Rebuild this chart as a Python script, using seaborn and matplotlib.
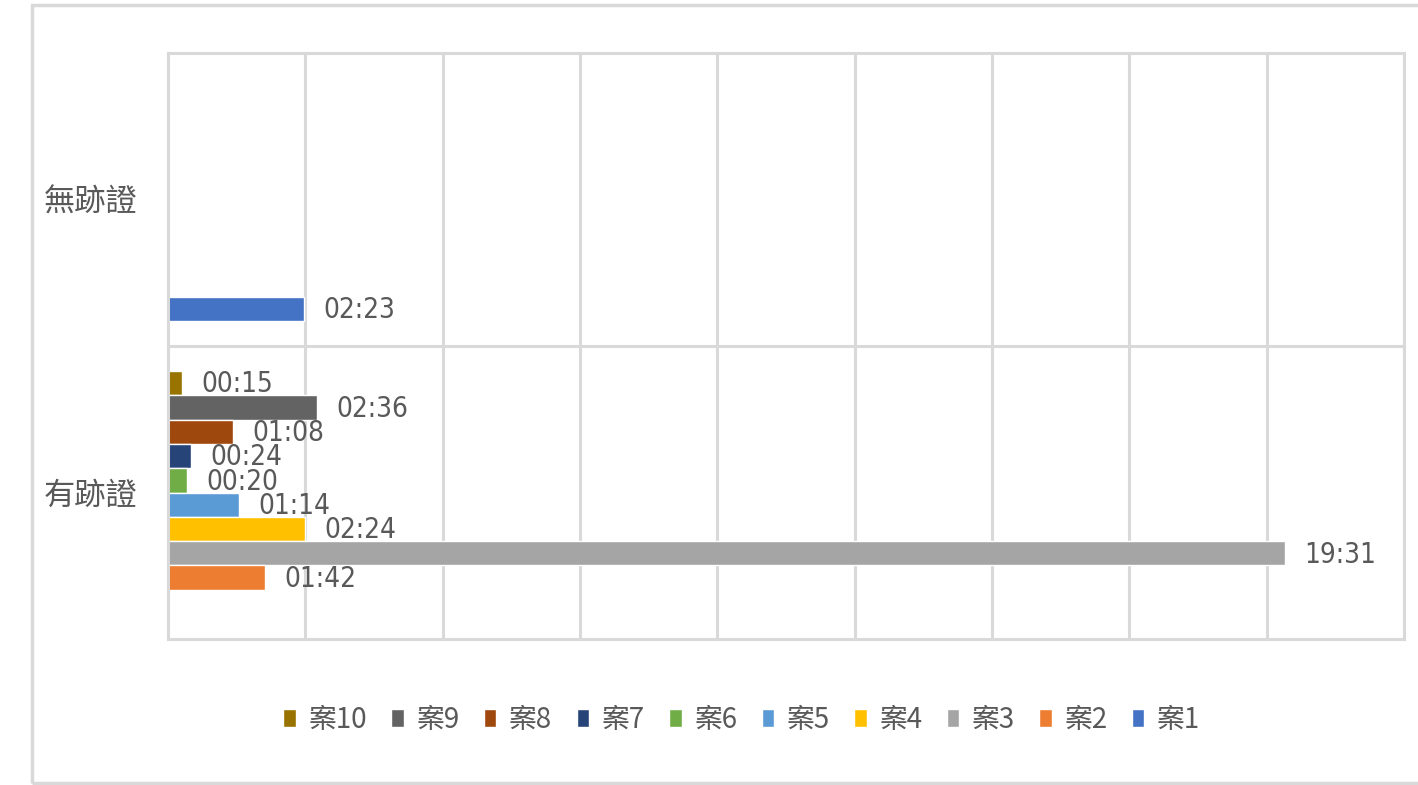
import numpy as np
import pandas as pd
import matplotlib
matplotlib.use("Agg")
import matplotlib.pyplot as plt
import seaborn as sns
from matplotlib import font_manager
from matplotlib.patches import Rectangle

# data: time per case (hh:mm), None = no bar
categories = ["無跡證", "有跡證"]
cases = ["案10", "案9", "案8", "案7", "案6", "案5", "案4", "案3", "案2", "案1"]
no_trace = [None, None, None, None, None, None, None, None, None, "02:23"]
with_trace = ["00:15", "02:36", "01:08", "00:24", "00:20", "01:14", "02:24", "19:31", "01:42", None]
colors = ["#997300", "#636363", "#9E480E", "#264478", "#70AD47",
          "#5B9BD5", "#FFC000", "#A5A5A5", "#ED7D31", "#4472C4"]


def to_min(s):
    h, m = s.split(":")
    return int(h) * 60 + int(m)


rows = []
for cat, vals in zip(categories, [no_trace, with_trace]):
    for case, v in zip(cases, vals):
        if v is not None:
            rows.append({"cat": cat, "case": case, "label": v, "minutes": to_min(v)})
df = pd.DataFrame(rows)

sns.set_style("white")

# look for a narrow font for the numbers (Excel used a condensed face)
num_font, num_stretch, num_size = "Liberation Sans", "normal", 19
for f in font_manager.fontManager.ttflist:
    if f.name == "Liberation Sans Narrow":
        num_font, num_stretch, num_size = f.name, "normal", 21
        break
else:
    for f in font_manager.fontManager.ttflist:
        if f.name == "DejaVu Sans" and f.stretch == "condensed" and f.style == "normal" and f.weight in (400, "normal"):
            num_font, num_stretch, num_size = f.name, "condensed", 20
            break

plt.rcParams["font.family"] = [num_font, "Noto Sans CJK TC", "DejaVu Sans"]

grid_c = "#d9d9d9"
text_c = "#595959"

fig = plt.figure(figsize=(14.18, 7.85), dpi=100)
ax = fig.add_axes([168 / 1418, 1 - 639 / 785, (1404 - 168) / 1418, (639 - 53) / 785])

sns.barplot(data=df, y="cat", x="minutes", hue="case", order=categories,
            hue_order=cases, palette=colors, orient="h", width=0.83,
            dodge=True, saturation=1, ax=ax, legend=True)

# data labels
for container, case in zip(ax.containers, cases):
    sub = df[df["case"] == case].set_index("cat")
    for bar in container:
        w = bar.get_width()
        if np.isnan(w) or w == 0:
            continue
        yc = bar.get_y() + bar.get_height() / 2
        cat = categories[int(round(yc))]
        lab = sub.loc[cat, "label"]
        ax.annotate(lab, (w, yc), xytext=(14, -1), textcoords="offset points",
                    va="center", ha="left", fontsize=num_size, color=text_c,
                    family=[num_font, "DejaVu Sans"], fontstretch=num_stretch)

ax.set_xlim(0, 1296)
ax.set_ylim(1.5, -0.5)
ax.set_xticks(np.arange(0, 1297, 144))
ax.set_xticklabels([])
ax.tick_params(axis="x", length=0)
ax.tick_params(axis="y", length=0, pad=22)
ax.grid(axis="x", color=grid_c, linewidth=2.2)
ax.axhline(0.5, color=grid_c, linewidth=2.2, zorder=0)
ax.set_axisbelow(True)
for sp in ax.spines.values():
    sp.set_color(grid_c)
    sp.set_linewidth(2.2)
ax.set_xlabel("")
ax.set_ylabel("")
for t in ax.get_yticklabels():
    t.set_fontfamily(["Noto Sans CJK TC", "DejaVu Sans"])
    t.set_fontsize(22.5)
    t.set_color(text_c)

handles, labels = ax.get_legend_handles_labels()
ax.legend_.remove()
leg = fig.legend(handles, labels, loc="center", bbox_to_anchor=(0.523, 0.083),
                 ncol=10, frameon=False, handlelength=0.45,
                 handleheight=0.65, handletextpad=0.45, columnspacing=0.88,
                 prop={"family": [num_font, "Noto Sans CJK TC", "DejaVu Sans"],
                       "size": 20, "stretch": num_stretch})
for t in leg.get_texts():
    t.set_color(text_c)
    t.set_fontfamily(["Noto Sans CJK TC", "DejaVu Sans"])

# outer chart border
fig.patches.append(Rectangle((32 / 1418, 2 / 785), 1.2, 1 - 7 / 785,
                             transform=fig.transFigure, fill=False,
                             edgecolor=grid_c, linewidth=2.5))

fig.savefig("out.png", dpi=100)
